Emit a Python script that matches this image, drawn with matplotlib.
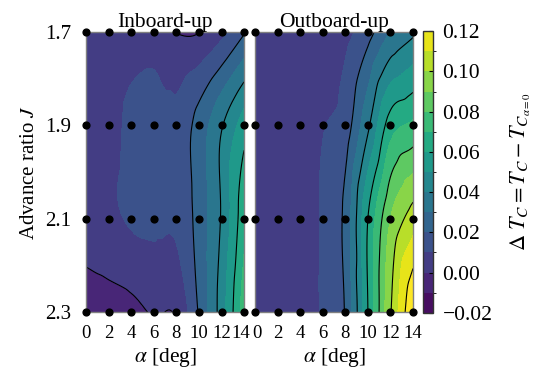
import numpy as np
import matplotlib
matplotlib.use('Agg')
import matplotlib.pyplot as plt
import matplotlib.tri as mtri
import matplotlib.transforms as mtransforms
from matplotlib.colors import ListedColormap, BoundaryNorm
from matplotlib.cm import ScalarMappable

plt.rcParams['font.family'] = ['Liberation Serif', 'DejaVu Serif']
plt.rcParams['mathtext.fontset'] = 'stix'

# measurement grid
alpha = [0, 2, 4, 6, 8, 10, 12, 14]
advance_ratio = [1.7, 1.9, 2.1, 2.3]

# thrust coefficient change relative to alpha = 0, one row per advance ratio
dtc_inboard = [
    [0.004, 0.004, 0.006, 0.006, -0.0003, -0.0003, 0.007, 0.019],
    [0.007, 0.007, 0.012, 0.014, 0.013, 0.024, 0.039, 0.055],
    [0.006, 0.008, 0.011, 0.012, 0.012, 0.024, 0.041, 0.067],
    [-0.007, -0.005, -0.003, 0.0008, 0.0012, 0.021, 0.045, 0.075],
]
dtc_outboard = [
    [0.003, 0.004, 0.005, 0.006, 0.007, 0.016, 0.030, 0.038],
    [0.004, 0.005, 0.007, 0.0095, 0.015, 0.038, 0.065, 0.072],
    [0.004, 0.005, 0.007, 0.011, 0.023, 0.060, 0.090, 0.105],
    [0.004, 0.005, 0.007, 0.011, 0.021, 0.060, 0.099, 0.130],
]
panel_titles = ['Inboard-up', 'Outboard-up']

fill_levels = np.round(np.arange(-0.02, 0.1201, 0.01), 3)
line_levels = np.round(np.arange(-0.02, 0.1201, 0.02), 3)
cbar_ticks = line_levels


def smooth_field(z):
    # cubic interpolation on a refined triangulation of the measurement grid
    A, J = np.meshgrid(alpha, advance_ratio)
    nx, ny = len(alpha), len(advance_ratio)
    tris = []
    for j in range(ny - 1):
        for i in range(nx - 1):
            k = j * nx + i
            tris.append([k, k + 1, k + nx + 1])
            tris.append([k, k + nx + 1, k + nx])
    da = alpha[1] - alpha[0]
    dj = advance_ratio[1] - advance_ratio[0]
    tri_n = mtri.Triangulation((A.ravel() - alpha[0]) / da,
                               (J.ravel() - advance_ratio[0]) / dj, tris)
    zz = np.asarray(z).ravel()
    interp = mtri.CubicTriInterpolator(tri_n, zz, kind='geom')
    tri_f, z_f = mtri.UniformTriRefiner(tri_n).refine_field(zz, triinterpolator=interp, subdiv=4)
    tri_plot = mtri.Triangulation(tri_f.x * da + alpha[0], tri_f.y * dj + advance_ratio[0],
                                  tri_f.triangles)
    return tri_plot, z_f


fig = plt.figure(figsize=(5.38, 3.76), dpi=100)
ax1 = fig.add_axes([0.160, 0.170, 0.2937, 0.745])
ax2 = fig.add_axes([0.474, 0.170, 0.2937, 0.745])
cax = fig.add_axes([0.786, 0.168, 0.0186, 0.749])

for ax, data, title in zip([ax1, ax2], [dtc_inboard, dtc_outboard], panel_titles):
    tri_plot, z_f = smooth_field(data)
    ax.tricontourf(tri_plot, z_f, levels=fill_levels, cmap='viridis', extend='max')
    ax.tricontour(tri_plot, z_f, levels=line_levels, colors='k', linewidths=0.8)
    A, J = np.meshgrid(alpha, advance_ratio)
    ax.scatter(A.ravel(), J.ravel(), s=24, color='k', zorder=5, clip_on=False)
    ax.set_xlim(alpha[0], alpha[-1])
    ax.set_ylim(advance_ratio[-1], advance_ratio[0])
    ax.set_xticks(alpha)
    ax.set_yticks(advance_ratio)
    ax.tick_params(axis='x', length=0, labelsize=13.5, pad=9)
    ax.tick_params(axis='y', length=0, labelsize=15, pad=11)
    ax.set_xlabel(r'$\alpha$ [deg]', fontsize=15.5, labelpad=3)
    ax.set_title(title, fontsize=15.5, pad=1)
    for sp in ax.spines.values():
        sp.set_color('#808080')
        sp.set_linewidth(1.0)

ax1.set_ylabel(r'Advance ratio $J$', fontsize=15, labelpad=4)
ax1.set_yticklabels(['%.1f' % v for v in advance_ratio])
ax2.set_yticklabels([])

# nudge the last alpha label of the left panel so it clears the right panel's first one
last = ax1.get_xticklabels()[-1]
last.set_transform(last.get_transform() + mtransforms.ScaledTranslation(-2.5 / 72, 0, fig.dpi_scale_trans))
first = ax2.get_xticklabels()[0]
first.set_transform(first.get_transform() + mtransforms.ScaledTranslation(1.5 / 72, 0, fig.dpi_scale_trans))

# colorbar bands use the same colours as the filled contour layers
n_bands = len(fill_levels) - 1
band_colors = plt.get_cmap('viridis')((np.arange(n_bands) + 0.5) / n_bands)
sm = ScalarMappable(norm=BoundaryNorm(fill_levels, n_bands), cmap=ListedColormap(band_colors))
cb = fig.colorbar(sm, cax=cax, ticks=cbar_ticks)
cb.ax.set_yticklabels([('%.2f' % v).replace('-', '\u2212') for v in cbar_ticks])
cb.ax.tick_params(labelsize=15.5, length=3, width=0.8, direction='in', pad=7)
cb.outline.set_linewidth(1.0)
cb.outline.set_edgecolor('#333333')
cb.set_label(r'$\Delta\ T_C = T_C - T_{C_{\alpha=0}}$', fontsize=16, labelpad=12)

fig.savefig('out.png', dpi=100)
